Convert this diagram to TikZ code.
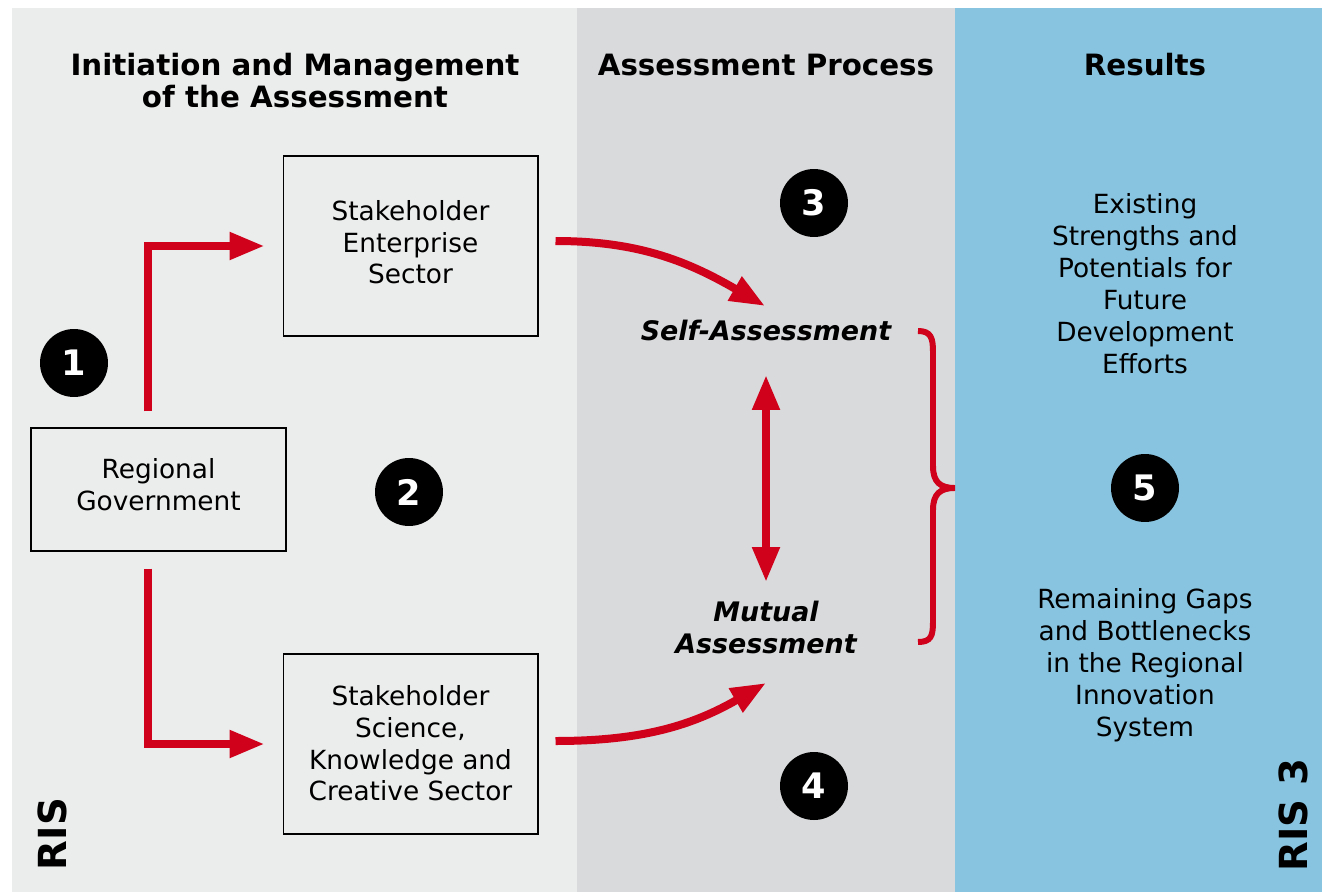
\documentclass[tikz,border=0pt]{standalone}
\usepackage{fontspec}
\setmainfont{DejaVu Sans}
\usetikzlibrary{arrows.meta, calc, positioning}

\definecolor{risred}{RGB}{208,2,27}
\definecolor{panelleft}{RGB}{235,236,236}
\definecolor{panelmid}{RGB}{217,218,220}
\definecolor{panelblue}{RGB}{136,196,224}

\begin{document}
\begin{tikzpicture}[
      x=0.02cm, y=-0.02cm,
      sbox/.style = {
          draw,
          line width=0.6pt,
          minimum width=5.1cm,
          align=center,
          font=\fontsize{15}{18.2}\selectfont,
        },
      coltitle/.style = {
          align=center,
          font=\fontsize{16.7}{18.2}\selectfont\bfseries,
        },
      plain/.style = {
          align=center,
          font=\fontsize{15}{18.2}\selectfont,
        },
      assess/.style = {
          align=center,
          font=\fontsize{15.3}{18.2}\selectfont\bfseries\itshape,
        },
      numc/.style = {
          circle,
          fill=black,
          text=white,
          inner sep=0pt,
          minimum size=1.36cm,
          font=\fontsize{20}{20}\selectfont\bfseries,
        },
      ristag/.style = {
          rotate=90,
          font=\fontsize{22}{22}\selectfont\bfseries,
        },
      redarrow/.style = {
          draw=risred,
          line width=0.16cm,
          -{Triangle[length=0.7cm, width=0.52cm]},
        },
    ]

    \useasboundingbox (0,0) rectangle (1322,892);

    % panels
    \fill[white] (0,0) rectangle (1322,892);
    \fill[panelleft] (12,8) rectangle (577,892);
    \fill[panelmid] (577,8) rectangle (955,892);
    \fill[panelblue] (955,8) rectangle (1322,892);

    % column titles
    \node[coltitle](t1) at (295,81) {Initiation and Management\\of the Assessment};
    \node[coltitle](t2) at (766,65) {Assessment Process};
    \node[coltitle](t3) at (1145,65) {Results};

    % boxes
    \node[sbox, minimum height=2.46cm, text depth=0.2cm](rg) at (158.5,489.5) {Regional\\Government};
    \node[sbox, minimum height=3.6cm, text depth=0.16cm](se) at (410.5,246) {Stakeholder\\Enterprise\\Sector};
    \node[sbox, minimum height=3.6cm, text depth=0.04cm](ss) at (410.5,744) {Stakeholder\\Science,\\Knowledge and\\Creative Sector};

    % assessment labels
    \node[assess](selfa) at (766,330) {Self-Assessment};
    \node[assess](mutual) at (766,627) {Mutual\\Assessment};

    % results
    \node[plain](strengths) at (1145,284) {Existing\\Strengths and\\Potentials for\\Future\\Development\\Efforts};
    \node[plain](gaps) at (1145,665) {Remaining Gaps\\and Bottlenecks\\in the Regional\\Innovation\\System};

    % numbers
    \node[numc](n1) at (74,363) {1};
    \node[numc](n2) at (409,492) {2};
    \node[numc](n3) at (814,203) {3};
    \node[numc](n4) at (814,786) {4};
    \node[numc](n5) at (1145,488) {5};

    \node[ristag](ris) at (52,834) {RIS};
    \node[ristag](ris3) at (1293,815) {RIS 3};

    % arrows
    \draw[redarrow]([xshift=-0.22cm, yshift=0.32cm]rg.north) |- ([xshift=-0.36cm]se.west);
    \draw[redarrow]([xshift=-0.22cm, yshift=-0.34cm]rg.south) |- ([xshift=-0.36cm]ss.west);

    \coordinate (selfin) at ($(selfa)+(-1,-24)$);
    \coordinate (mutin) at ($(mutual)+(0,56)$);
    \draw[redarrow]([xshift=0.34cm, yshift=0.1cm]se.east) to[out=0, in=150] (selfin);
    \draw[redarrow]([xshift=0.34cm, yshift=0.06cm]ss.east) to[out=0, in=-150] (mutin);

    \coordinate (ctop) at ($(selfa)+(0,45)$);
    \coordinate (cbot) at ($(mutual)+(0,-45)$);
    \draw[redarrow, {Triangle[length=0.7cm, width=0.52cm]}-{Triangle[length=0.7cm, width=0.52cm]}] (ctop) -- (cbot);

    % brace
    \draw[risred, line width=3.4pt]
      (918,331) .. controls (931,331) and (933,338) .. (933,352) -- (933,466)
      .. controls (933,482) and (940,488) .. (955,488)
      .. controls (940,488) and (933,494) .. (933,510) -- (933,622)
      .. controls (933,636) and (931,642) .. (918,642);

  \end{tikzpicture}
\end{document}
